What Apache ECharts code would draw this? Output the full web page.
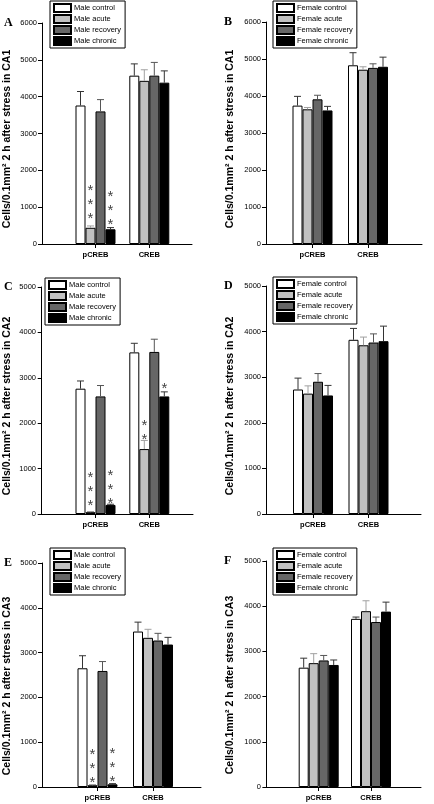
<!DOCTYPE html>
<html><head><meta charset="utf-8">
<script src="https://cdn.jsdelivr.net/npm/echarts@6/dist/echarts.min.js"></script>
<style>html,body{margin:0;padding:0;background:#fff}#c{width:434px;height:804px}</style>
</head><body><div id="c"></div>
<script>
// ---- data ----
const categories = ['pCREB', 'CREB'];
const maleNames = ['Male control', 'Male acute', 'Male recovery', 'Male chronic'];
const femaleNames = ['Female control', 'Female acute', 'Female recovery', 'Female chronic'];
const yTickStep = 1000;

// means: one row per group (control, acute, recovery, chronic), columns = [pCREB, CREB]
const A_mean = [[3760, 4570], [440, 4430], [3600, 4570], [400, 4380]];
const A_sem  = [[380, 320], [50, 300], [320, 360], [45, 320]];
const B_mean = [[3740, 4830], [3640, 4710], [3910, 4760], [3610, 4790]];
const B_sem  = [[250, 340], [50, 80], [110, 110], [110, 260]];
const C_mean = [[2760, 3560], [40, 1430], [2590, 3570], [200, 2590]];
const C_sem  = [[170, 200], [15, 190], [240, 280], [15, 100]];
const D_mean = [[2730, 3820], [2640, 3700], [2900, 3760], [2600, 3790]];
const D_sem  = [[250, 250], [170, 180], [180, 190], [220, 330]];
const E_mean = [[2650, 3470], [40, 3330], [2590, 3270], [60, 3180]];
const E_sem  = [[280, 210], [15, 190], [210, 160], [15, 160]];
const F_mean = [[2640, 3720], [2740, 3890], [2800, 3650], [2700, 3880]];
const F_sem  = [[210, 40], [210, 230], [110, 110], [110, 210]];

// significance marks: [category index, group index, number of asterisks, value level of lowest asterisk]
const A_sig = [[0, 1, 3, 830], [0, 3, 3, 650]];
const B_sig = [];
const C_sig = [[0, 1, 3, 290], [0, 3, 3, 330], [1, 1, 2, 1740], [1, 3, 1, 2860]];
const D_sig = [];
const E_sig = [[0, 1, 3, 195], [0, 3, 3, 230]];
const F_sig = [];

// ---- styles / layout ----
const barColors = ['#ffffff', '#c0c0c0', '#666666', '#000000'];
const errColors = ['#333333', '#a0a0a0', '#555555', '#333333'];
const sans = "'Liberation Sans', Arial, sans-serif";
const serif = "'Liberation Serif', 'Times New Roman', serif";
const BAR_W = 10;

const panels = [
  {letter: 'A', names: maleNames, region: 'CA1', mean: A_mean, sem: A_sem, sig: A_sig, yMax: 6000,
   axisX: 42, right: 192, c1: 95.5, c2: 149.3, top: 23, bottom: 244, lx: 4, ly: 23, legL: 50, legT: 1, nx: 7, ny: 139},
  {letter: 'B', names: femaleNames, region: 'CA1', mean: B_mean, sem: B_sem, sig: B_sig, yMax: 6000,
   axisX: 266, right: 422, c1: 312.5, c2: 368, top: 22, bottom: 244, lx: 224, ly: 22, legL: 273, legT: 1, nx: 230, ny: 139},
  {letter: 'C', names: maleNames, region: 'CA2', mean: C_mean, sem: C_sem, sig: C_sig, yMax: 5000,
   axisX: 41, right: 193, c1: 95.5, c2: 149.3, top: 287, bottom: 514, lx: 4, ly: 287, legL: 45, legT: 278, nx: 7, ny: 406},
  {letter: 'D', names: femaleNames, region: 'CA2', mean: D_mean, sem: D_sem, sig: D_sig, yMax: 5000,
   axisX: 266, right: 421, c1: 313, c2: 368.5, top: 286, bottom: 514, lx: 224, ly: 286, legL: 273, legT: 277, nx: 230, ny: 406},
  {letter: 'E', names: maleNames, region: 'CA3', mean: E_mean, sem: E_sem, sig: E_sig, yMax: 5000,
   axisX: 42, right: 201, c1: 97.5, c2: 153, top: 563, bottom: 787, lx: 4, ly: 563, legL: 50, legT: 548, nx: 7, ny: 686},
  {letter: 'F', names: femaleNames, region: 'CA3', mean: F_mean, sem: F_sem, sig: F_sig, yMax: 5000,
   axisX: 266, right: 421, c1: 318.7, c2: 371, top: 561, bottom: 787, lx: 224, ly: 561, legL: 273, legT: 548, nx: 230, ny: 685}
];

const grid = [], xAxis = [], yAxis = [], series = [], legend = [], graphic = [];

panels.forEach((p, k) => {
  const unit = p.c2 - p.c1;
  const xMin = 1 - (p.c1 - p.axisX) / unit;
  const xMax = 2 + (p.right - p.c2) / unit;
  grid.push({left: p.axisX, top: p.top, width: p.right - p.axisX, height: p.bottom - p.top});
  xAxis.push({
    gridIndex: k, type: 'value', min: xMin, max: xMax,
    axisLine: {show: true, lineStyle: {color: '#000', width: 1}},
    axisTick: {show: true, customValues: [1, 2], length: 4, lineStyle: {color: '#000'}},
    axisLabel: {show: true, customValues: [1, 2], formatter: v => categories[Math.round(v) - 1] || '',
      fontFamily: sans, fontWeight: 'bold', fontSize: 7.5, color: '#000', margin: 7},
    splitLine: {show: false}
  });
  yAxis.push({
    gridIndex: k, type: 'value', min: 0, max: p.yMax, interval: yTickStep,
    axisLine: {show: true, lineStyle: {color: '#000', width: 1}},
    axisTick: {show: true, length: 4, lineStyle: {color: '#000'}},
    axisLabel: {fontFamily: sans, fontSize: 7.5, color: '#000', margin: 5, formatter: v => String(v)},
    splitLine: {show: false}
  });
  p.names.forEach((nm, s) => {
    series.push({
      type: 'bar', name: nm, xAxisIndex: k, yAxisIndex: k, barWidth: BAR_W, barGap: '0%',
      data: categories.map((c, i) => [i + 1, p.mean[s][i]]),
      itemStyle: {color: barColors[s], borderColor: '#000', borderWidth: 1},
      silent: true, z: 2
    });
  });
  // error bars
  const errData = [];
  p.names.forEach((nm, s) => categories.forEach((c, i) => errData.push([i + 1, s, p.mean[s][i], p.sem[s][i]])));
  series.push({
    type: 'custom', xAxisIndex: k, yAxisIndex: k, silent: true, z: 3,
    data: errData,
    renderItem: (params, api) => {
      const x = api.value(0), s = api.value(1), m = api.value(2), e = api.value(3);
      const base = api.coord([x, m]);
      const top = api.coord([x, m + e]);
      const px = base[0] + (s - 1.5) * BAR_W;
      const col = errColors[s];
      return {type: 'group', children: [
        {type: 'line', shape: {x1: px, y1: base[1], x2: px, y2: top[1]}, style: {stroke: col, lineWidth: 1}},
        {type: 'line', shape: {x1: px - 3.5, y1: top[1], x2: px + 3.5, y2: top[1]}, style: {stroke: col, lineWidth: 1}}
      ]};
    }
  });
  // asterisks
  if (p.sig.length) {
    series.push({
      type: 'custom', xAxisIndex: k, yAxisIndex: k, silent: true, z: 4,
      data: p.sig.map(d => [d[0] + 1, d[1], d[2], d[3]]),
      renderItem: (params, api) => {
        const x = api.value(0), s = api.value(1), n = api.value(2), v = api.value(3);
        const pt = api.coord([x, v]);
        const px = pt[0] + (s - 1.5) * BAR_W;
        const children = [];
        for (let j = 0; j < n; j++) {
          children.push({type: 'text', x: px, y: pt[1] - j * 14 + 5,
            style: {text: '*', fontFamily: sans, fontSize: 15, fill: '#444', align: 'center', verticalAlign: 'middle'}});
        }
        return {type: 'group', children};
      }
    });
  }
  legend.push({
    left: p.legL, top: p.legT, orient: 'vertical', data: p.names.slice(), icon: 'rect',
    itemWidth: 17, itemHeight: 8, itemGap: 1, padding: [2, 4, 2, 3],
    borderColor: '#000', borderWidth: 1, backgroundColor: '#fff', selectedMode: false,
    textStyle: {fontFamily: sans, fontSize: 7.5, lineHeight: 10, color: '#000', padding: [0, 0, 0, -2]}
  });
  graphic.push({type: 'text', left: p.lx, top: p.ly - 6,
    style: {text: p.letter, fontFamily: serif, fontWeight: 'bold', fontSize: 12, fill: '#000'}});
  graphic.push({type: 'text', x: p.nx, y: p.ny, rotation: Math.PI / 2,
    style: {text: 'Cells/0.1mm² 2 h after stress in ' + p.region, fontFamily: sans, fontWeight: 'bold',
      fontSize: 10.5, fill: '#000', align: 'center', verticalAlign: 'middle'}});
});

const chart = echarts.init(document.getElementById('c'), null, {renderer: 'canvas'});
chart.setOption({animation: false, backgroundColor: '#fff', grid, xAxis, yAxis, series, legend, graphic});
</script>
</body></html>
